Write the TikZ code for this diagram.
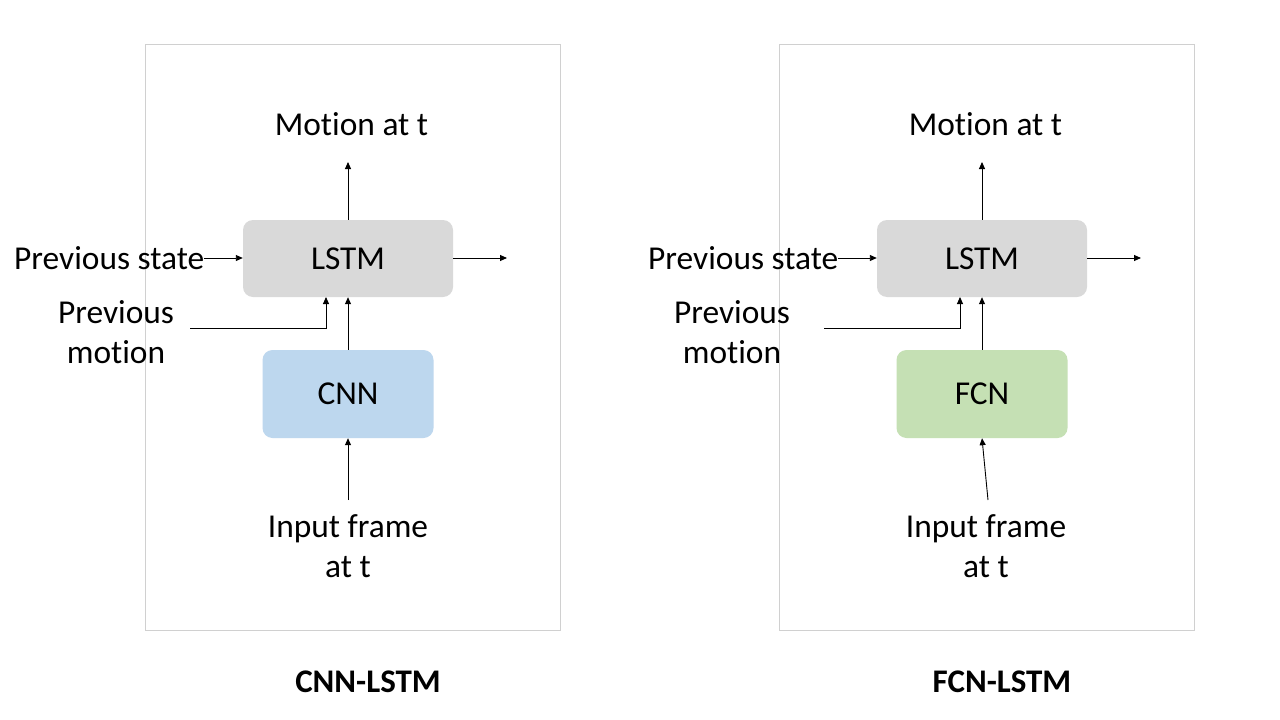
\documentclass[tikz,border=0pt]{standalone}
\usepackage{fontspec}
\setmainfont{Carlito}[Ligatures=NoCommon]
\usetikzlibrary{arrows.meta}
\definecolor{cnnblue}{HTML}{BDD7EE}
\definecolor{fcngreen}{HTML}{C5E0B4}
\definecolor{lstmgray}{HTML}{D9D9D9}
\definecolor{framegray}{HTML}{D0D0D0}
\tikzset{
  arr/.style={draw=black, line width=0.9pt, -{Triangle[length=7pt,width=6pt]}},
  blockbox/.style={rounded corners=10pt, draw=none, inner sep=0pt, font=\fontsize{33.4}{38}\selectfont},
  lbl/.style={inner sep=0pt, font=\fontsize{33.4}{40}\selectfont, align=center},
  ttl/.style={inner sep=0pt, font=\fontsize{33}{38}\selectfont\bfseries},
  panel/.style={draw=framegray, line width=0.8pt}
}
\begin{document}
\begin{tikzpicture}[x=1pt,y=-1pt]
\useasboundingbox (0,0) rectangle (1280,720);
\fill[white] (0,0) rectangle (1280,720);
\foreach \p/\dx/\nn/\col/\title/\pmx/\inx/\insx in {a/0/CNN/cnnblue/CNN-LSTM/116/348/348, b/634/FCN/fcngreen/FCN-LSTM/98/352/354}{
  \begin{scope}[xshift=\dx pt]
    \draw[panel] (145,44) rectangle (560,630);
    \node[blockbox, fill=lstmgray, minimum width=210pt, minimum height=77pt] (\p lstm) at (348,258.5) {LSTM};
    \node[blockbox, fill=\col, minimum width=171pt, minimum height=88pt] (\p enc) at (348,394) {\nn};
    \node[lbl] (\p mot) at (351.5,124) {Motion at t};
    \node[lbl, anchor=west] (\p ps) at (14,258) {Previous state};
    \node[lbl] (\p pm) at (\pmx,332) {Previous\\motion};
    \node[lbl] (\p inp) at (\inx,546) {Input frame\\at t};
    \node[ttl] (\p ttl) at (368,682) {\title};
    \coordinate (\p motarr) at (348,162);
    \coordinate (\p outarr) at (507,258);
    \coordinate (\p pmstart) at (190,328);
    \coordinate (\p pmend) at (326,297);
    \coordinate (\p inpstart) at (\insx,500);
    \draw[arr] (\p lstm.north) -- (\p motarr);
    \draw[arr] (\p lstm.east |- \p outarr) -- (\p outarr);
    \draw[arr] (\p ps.east) -- (\p ps.east -| \p lstm.west);
    \draw[arr] (\p pmstart) -| (\p pmend);
    \draw[arr] (\p enc.north) -- (\p lstm.south);
    \draw[arr] (\p inpstart) -- (\p enc.south);
  \end{scope}
}
\end{tikzpicture}
\end{document}
